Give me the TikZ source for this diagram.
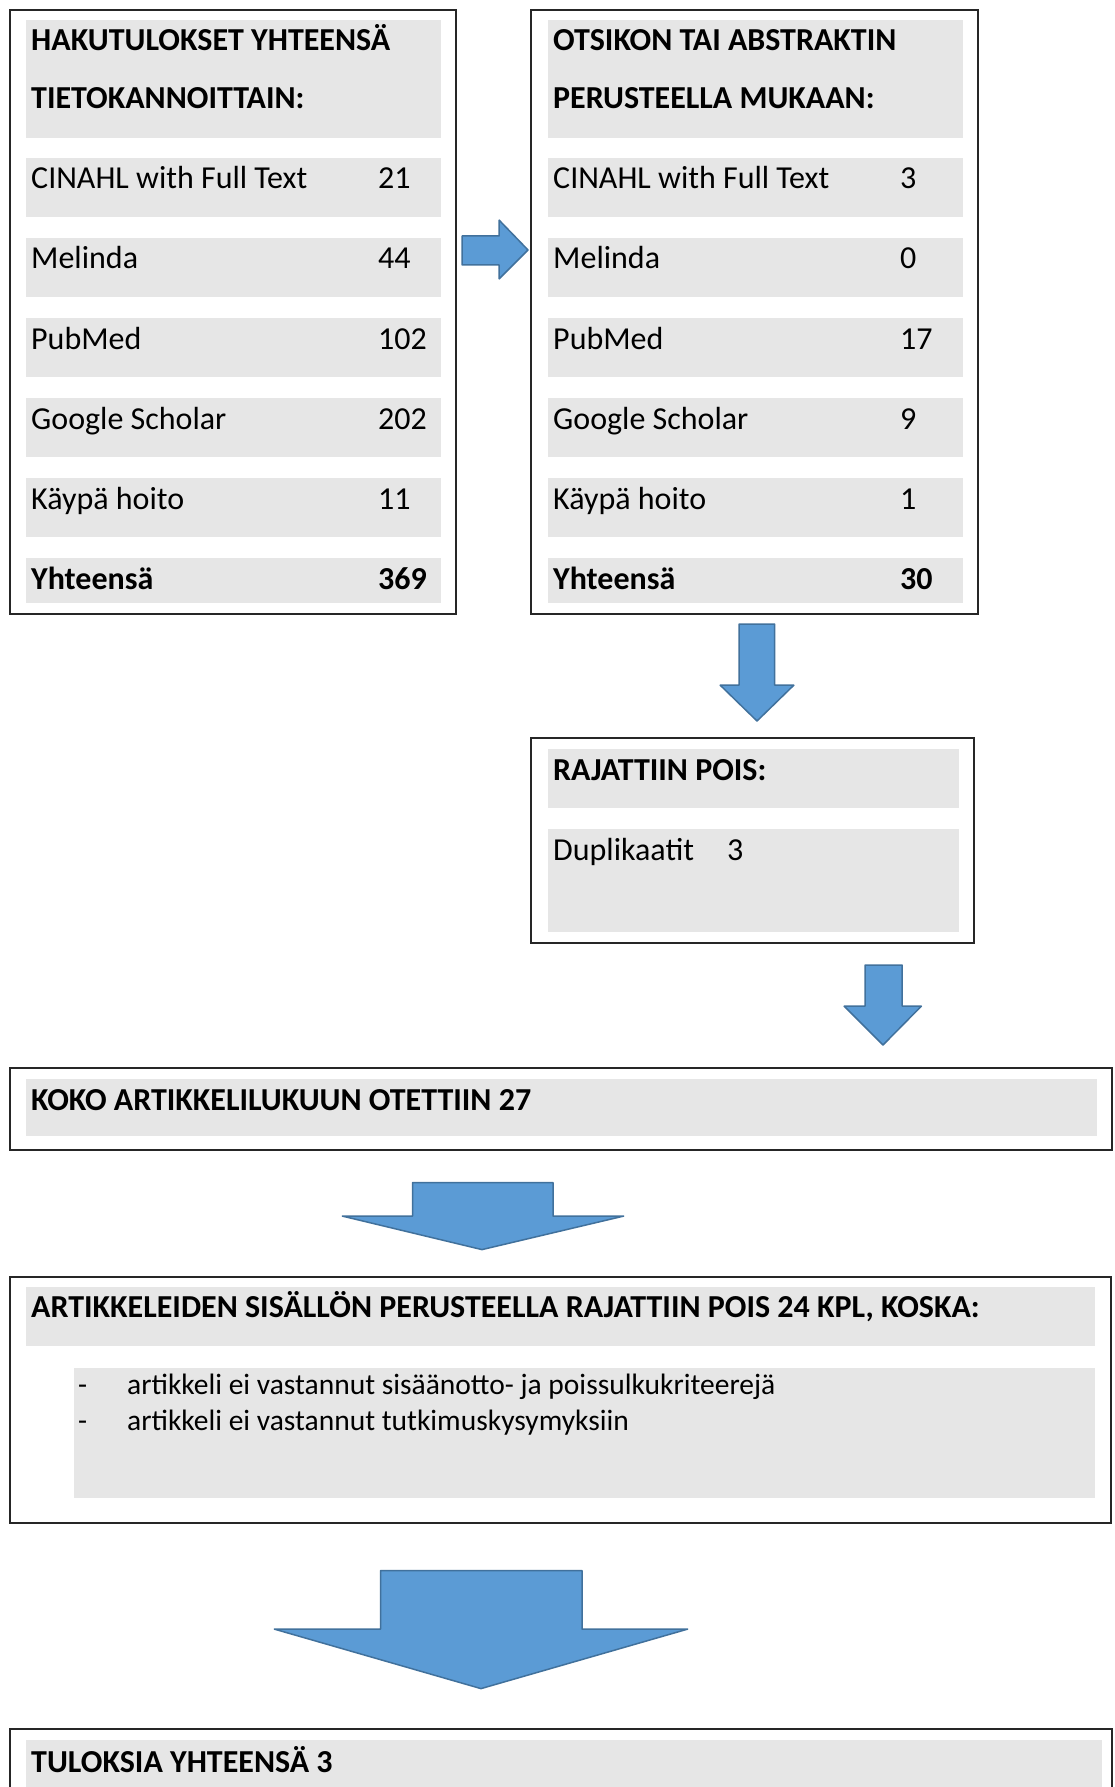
\documentclass[tikz,border=0pt]{standalone}
\usepackage{fontspec}
\setmainfont{Carlito}
\definecolor{barg}{HTML}{E6E6E6}
\definecolor{arrowblue}{HTML}{5B9BD5}
\definecolor{arrowedge}{HTML}{41719C}
\begin{document}
\begin{tikzpicture}[x=1pt,y=-1pt,
  outerbox/.style={draw=black!85, line width=1.4},
  bar/.style={fill=barg, draw=none},
  txt/.style={anchor=base west, inner sep=0, font=\fontsize{32}{38}\selectfont},
  btxt/.style={anchor=base west, inner sep=0, font=\fontsize{32}{38}\selectfont\bfseries},
  ltxt/.style={anchor=base west, inner sep=0, font=\fontsize{29.5}{36}\selectfont},
  blockarrow/.style={fill=arrowblue, draw=arrowedge, line width=1.5, line join=bevel}]
\useasboundingbox (0,0) rectangle (1115,1787);
\fill[white] (0,0) rectangle (1115,1787);

% ---------- left box ----------
\draw[outerbox] (10,10) rectangle (456,614);
\path[bar] (26,20) rectangle (441,138);
\foreach \y in {158,238,318,398,478} {\path[bar] (26,\y) rectangle (441,\y+59);}
\path[bar] (26,558) rectangle (441,603);
\node[btxt] (lh1) at (31,51) {HAKUTULOKSET YHTEENSÄ};
\node[btxt] (lh2) at (31,109) {TIETOKANNOITTAIN:};
\node[txt] (l1) at (31,189) {CINAHL with Full Text};
\node[txt] (l2) at (31,269) {Melinda};
\node[txt] (l3) at (31,349) {PubMed};
\node[txt] (l4) at (31,429) {Google Scholar};
\node[txt] (l5) at (31,509) {Käypä hoito};
\node[btxt] (l6) at (31,589) {Yhteensä};
\node[txt] (n1) at (378,189) {21};
\node[txt] (n2) at (378,269) {44};
\node[txt] (n3) at (378,349) {102};
\node[txt] (n4) at (378,429) {202};
\node[txt] (n5) at (378,509) {11};
\node[btxt] (n6) at (378,589) {369};

% ---------- right box ----------
\draw[outerbox] (531,10) rectangle (978,614);
\path[bar] (548,20) rectangle (962.5,138);
\foreach \y in {158,238,318,398,478} {\path[bar] (548,\y) rectangle (962.5,\y+59);}
\path[bar] (548,558) rectangle (962.5,603);
\node[btxt] (rh1) at (553,51) {OTSIKON TAI ABSTRAKTIN};
\node[btxt] (rh2) at (553,109) {PERUSTEELLA MUKAAN:};
\node[txt] (r1) at (553,189) {CINAHL with Full Text};
\node[txt] (r2) at (553,269) {Melinda};
\node[txt] (r3) at (553,349) {PubMed};
\node[txt] (r4) at (553,429) {Google Scholar};
\node[txt] (r5) at (553,509) {Käypä hoito};
\node[btxt] (r6) at (553,589) {Yhteensä};
\node[txt] (m1) at (900,189) {3};
\node[txt] (m2) at (900,269) {0};
\node[txt] (m3) at (900,349) {17};
\node[txt] (m4) at (900,429) {9};
\node[txt] (m5) at (900,509) {1};
\node[btxt] (m6) at (900,589) {30};

% ---------- rajattiin box ----------
\draw[outerbox] (531,738) rectangle (974,943);
\path[bar] (548,749) rectangle (959,807.5);
\path[bar] (548,829) rectangle (959,932);
\node[btxt] (rp) at (553,780) {RAJATTIIN POIS:};
\node[txt] (dup) at (553,860) {Duplikaatit};
\node[txt] (dupn) at (727,860) {3};

% ---------- koko box ----------
\draw[outerbox] (10,1068) rectangle (1112,1150);
\path[bar] (26,1079) rectangle (1097,1136);
\node[btxt] (koko) at (31,1110.5) {KOKO ARTIKKELILUKUUN OTETTIIN 27};

% ---------- artikkeleiden box ----------
\draw[outerbox] (10,1277) rectangle (1111,1523);
\path[bar] (26,1287) rectangle (1095,1345.5);
\path[bar] (74,1367.5) rectangle (1095,1498);
\node[btxt] (art) at (31,1317) {ARTIKKELEIDEN SISÄLLÖN PERUSTEELLA RAJATTIIN POIS 24 KPL, KOSKA:};
\node[ltxt] (d1) at (78,1394) {-};
\node[ltxt] (i1) at (127,1394) {artikkeli ei vastannut sisäänotto- ja poissulkukriteerejä};
\node[ltxt] (d2) at (78,1430) {-};
\node[ltxt] (i2) at (127,1430) {artikkeli ei vastannut tutkimuskysymyksiin};

% ---------- tuloksia box ----------
\draw[outerbox] (10,1729) rectangle (1112,1800);
\path[bar] (26,1740) rectangle (1102,1800);
\node[btxt] (tul) at (31,1772) {TULOKSIA YHTEENSÄ 3};

% ---------- block arrows ----------
\draw[blockarrow] (462,236) -- (499,236) -- (499,220) -- (528,250) -- (499,279) -- (499,265) -- (462,265) -- cycle;
\draw[blockarrow] (739,624) -- (774.5,624) -- (774.5,685) -- (794,685) -- (757,721) -- (720,685) -- (739,685) -- cycle;
\draw[blockarrow] (865,965) -- (902,965) -- (902,1006) -- (921.5,1006) -- (883,1045) -- (844,1006) -- (865,1006) -- cycle;
\draw[blockarrow] (412.5,1182.5) -- (553,1182.5) -- (553,1216) -- (624,1216) -- (482,1249.6) -- (342,1216) -- (412.5,1216) -- cycle;
\draw[blockarrow] (380.5,1570.7) -- (582,1570.7) -- (582,1629) -- (688,1629) -- (481,1688.6) -- (274,1629) -- (380.5,1629) -- cycle;
\end{tikzpicture}
\end{document}
